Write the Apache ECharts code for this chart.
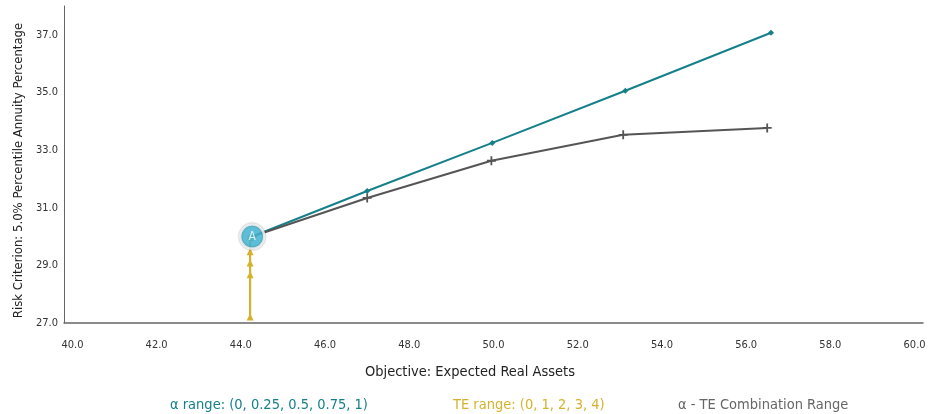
<!DOCTYPE html>
<html>
<head>
<meta charset="utf-8">
<script src="https://cdn.jsdelivr.net/npm/echarts@6/dist/echarts.min.js"></script>
<style>
html,body{margin:0;padding:0;background:#fff;}
#chart{width:935px;height:414px;}
</style>
</head>
<body>
<div id="chart"></div>
<script>
// ---- data ----
const xTickValues = [40, 42, 44, 46, 48, 50, 52, 54, 56, 58, 60];
const yTickValues = [27, 29, 31, 33, 35, 37];

const alphaName = "α range: (0, 0.25, 0.5, 0.75, 1)";
const alphaX = [44.27, 47.0, 49.97, 53.13, 56.59];
const alphaY = [30.0, 31.58, 33.25, 35.06, 37.07];

const teName = "TE range: (0, 1, 2, 3, 4)";
const teX = [44.22, 44.22, 44.22, 44.22, 44.22];
const teY = [30.0, 29.47, 29.08, 28.67, 27.21];

const comboName = "α - TE Combination Range";
const comboX = [44.27, 47.0, 49.95, 53.08, 56.5];
const comboY = [30.0, 31.34, 32.63, 33.53, 33.77];

const pointALabel = "A";
const pointA = [44.27, 30.0];

const xAxisTitle = "Objective: Expected Real Assets";
const yAxisTitle = "Risk Criterion: 5.0% Percentile Annuity Percentage";

// ---- chart ----
const FONT = '"Liberation Sans Narrow", "DejaVu Sans Condensed", "Roboto Condensed", Roboto, sans-serif';
const zip = (xs, ys) => xs.map((x, i) => [x, ys[i]]);
const plusPath = 'path://M4,0 H6 V4 H10 V6 H6 V10 H4 V6 H0 V4 H4 Z';

const colTeal = '#15808a';
const colGold = '#d5b22c';
const colGray = '#555555';

const legendBase = {
  top: 398, itemWidth: 0, itemHeight: 0, icon: 'none', padding: 0,
  textStyle: {fontSize: 14.5, fontFamily: FONT}
};

const chart = echarts.init(document.getElementById('chart'), null, {renderer: 'canvas'});
chart.setOption({
  animation: false,
  textStyle: {fontFamily: FONT},
  grid: {left: 64, right: 12, top: 6, bottom: 91, containLabel: false, outerBoundsMode: 'none'},
  xAxis: {
    type: 'value',
    min: 39.8, max: 60.2,
    axisLine: {show: true, lineStyle: {color: '#666', width: 1.5}},
    axisTick: {show: false},
    splitLine: {show: false},
    axisLabel: {
      customValues: xTickValues,
      formatter: v => v.toFixed(1),
      color: '#333', fontSize: 11, fontFamily: FONT, margin: 17
    }
  },
  yAxis: {
    type: 'value',
    min: 27, max: 38,
    name: yAxisTitle,
    nameLocation: 'middle',
    nameGap: 37,
    nameTextStyle: {color: '#222', fontSize: 13, fontFamily: FONT, padding: [0, 12, 0, 0]},
    axisLine: {show: true, lineStyle: {color: '#666', width: 1}},
    axisTick: {show: false},
    splitLine: {show: false},
    axisLabel: {
      customValues: yTickValues,
      formatter: v => v.toFixed(1),
      color: '#333', fontSize: 11, fontFamily: FONT, margin: 6
    }
  },
  legend: [
    Object.assign({}, legendBase, {left: 165, data: [{name: alphaName, textStyle: {color: colTeal}}]}),
    Object.assign({}, legendBase, {left: 448, data: [{name: teName, textStyle: {color: colGold}}]}),
    Object.assign({}, legendBase, {left: 673, data: [{name: comboName, textStyle: {color: '#666'}}]})
  ],
  graphic: [{
    type: 'text',
    x: 470, y: 372,
    style: {text: xAxisTitle, fill: '#222', fontSize: 14.5, fontFamily: FONT, align: 'center', verticalAlign: 'middle'}
  }],
  series: [
    {
      name: alphaName, type: 'line',
      data: zip(alphaX, alphaY),
      symbol: 'diamond', symbolSize: 6, showSymbol: true,
      itemStyle: {color: colTeal},
      lineStyle: {color: colTeal, width: 2},
      z: 3
    },
    {
      name: comboName, type: 'line',
      data: zip(comboX, comboY),
      symbol: plusPath, symbolSize: 9,
      itemStyle: {color: colGray},
      lineStyle: {color: colGray, width: 2},
      z: 4
    },
    {
      name: teName, type: 'line',
      data: zip(teX, teY),
      symbol: 'triangle', symbolSize: 7,
      itemStyle: {color: colGold},
      lineStyle: {color: colGold, width: 2.2},
      z: 5
    },
    {
      name: 'A', type: 'scatter',
      data: [pointA],
      symbol: 'circle', symbolSize: 24,
      itemStyle: {
        color: '#4cc4e4', borderColor: '#ffffff', borderWidth: 2.5,
        shadowColor: 'rgba(0,0,0,0.45)', shadowBlur: 2
      },
      label: {show: true, position: 'inside', formatter: pointALabel, color: '#fff', fontSize: 12, fontFamily: FONT},
      z: 10
    }
  ]
});
</script>
</body>
</html>
